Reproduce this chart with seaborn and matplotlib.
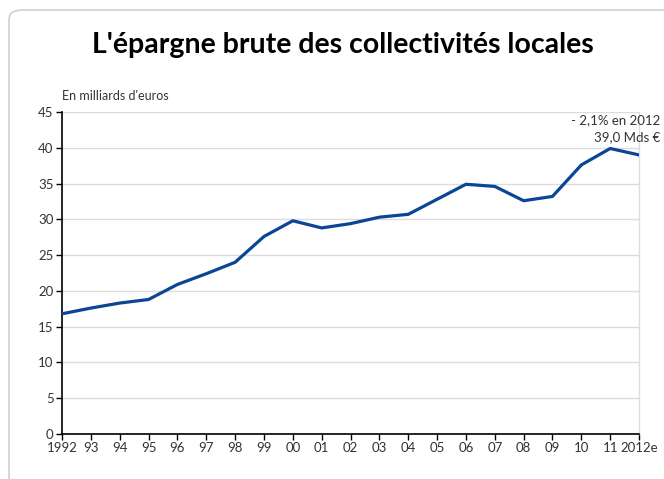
import numpy as np
import pandas as pd
import matplotlib.pyplot as plt
import seaborn as sns
from matplotlib.patches import FancyBboxPatch

# values (billions of euros)
years = list(range(1992, 2013))
epargne = [16.8, 17.6, 18.3, 18.8, 20.9, 22.4, 24.0, 27.6, 29.8, 28.8, 29.4,
           30.3, 30.7, 32.8, 34.9, 34.6, 32.6, 33.2, 37.6, 39.9, 39.0]
year_labels = ['1992', '93', '94', '95', '96', '97', '98', '99', '00', '01', '02',
               '03', '04', '05', '06', '07', '08', '09', '10', '11', '2012e']
y_ticks = [0, 5, 10, 15, 20, 25, 30, 35, 40, 45]

df = pd.DataFrame({'annee': years, 'epargne': epargne})

sns.set_style('white')
plt.rcParams['font.family'] = ['Lato', 'DejaVu Sans']

fig = plt.figure(figsize=(6.64, 4.79), dpi=100)
ax = fig.add_axes([0.0934, 0.0939, 0.869, 0.6723])

# rounded frame around the graphic
frame = FancyBboxPatch((9 / 664, -0.2), 1.2, 1.2 - 10 / 479,
                       boxstyle='round,pad=0,rounding_size=0.02',
                       transform=fig.transFigure, fill=False,
                       edgecolor='#c9d1dd', linewidth=1.2, clip_on=False)
fig.patches.append(frame)

sns.lineplot(data=df, x='annee', y='epargne', ax=ax, color='#0b4596',
             linewidth=2.3, zorder=3)

ax.set_xlim(1992, 2012)
ax.set_ylim(0, 45)
ax.set_yticks(y_ticks)
ax.set_xticks(years)
ax.set_xticklabels(year_labels)
ax.yaxis.grid(True, color='#dcdcdc', linewidth=1)
ax.set_axisbelow(True)

for side in ['left', 'bottom']:
    ax.spines[side].set_color('black')
    ax.spines[side].set_linewidth(1.2)
ax.spines['top'].set_visible(False)
ax.spines['right'].set_color('#dcdcdc')
ax.spines['right'].set_linewidth(1)
ax.tick_params(axis='both', direction='out', length=4, width=1, color='black',
               labelsize=9.5, labelcolor='#333333', pad=2)
ax.tick_params(axis='x', bottom=True)
ax.tick_params(axis='y', left=True)
ax.set_xlabel('')
ax.set_ylabel('')

fig.text(343 / 664, 1 - 45 / 479, "L'épargne brute des collectivités locales",
         ha='center', va='center', fontsize=20.5, fontweight='bold', color='black')
fig.text(62 / 664, 1 - 96 / 479, "En milliards d'euros", ha='left', va='center',
         fontsize=9, color='#333333')
fig.text(660 / 664, 1 - 120 / 479, "- 2,1% en 2012", ha='right', va='center',
         fontsize=9.5, color='#333333')
fig.text(660 / 664, 1 - 137 / 479, "39,0 Mds €", ha='right', va='center',
         fontsize=9.5, color='#333333')

fig.savefig('out.png', dpi=100)
